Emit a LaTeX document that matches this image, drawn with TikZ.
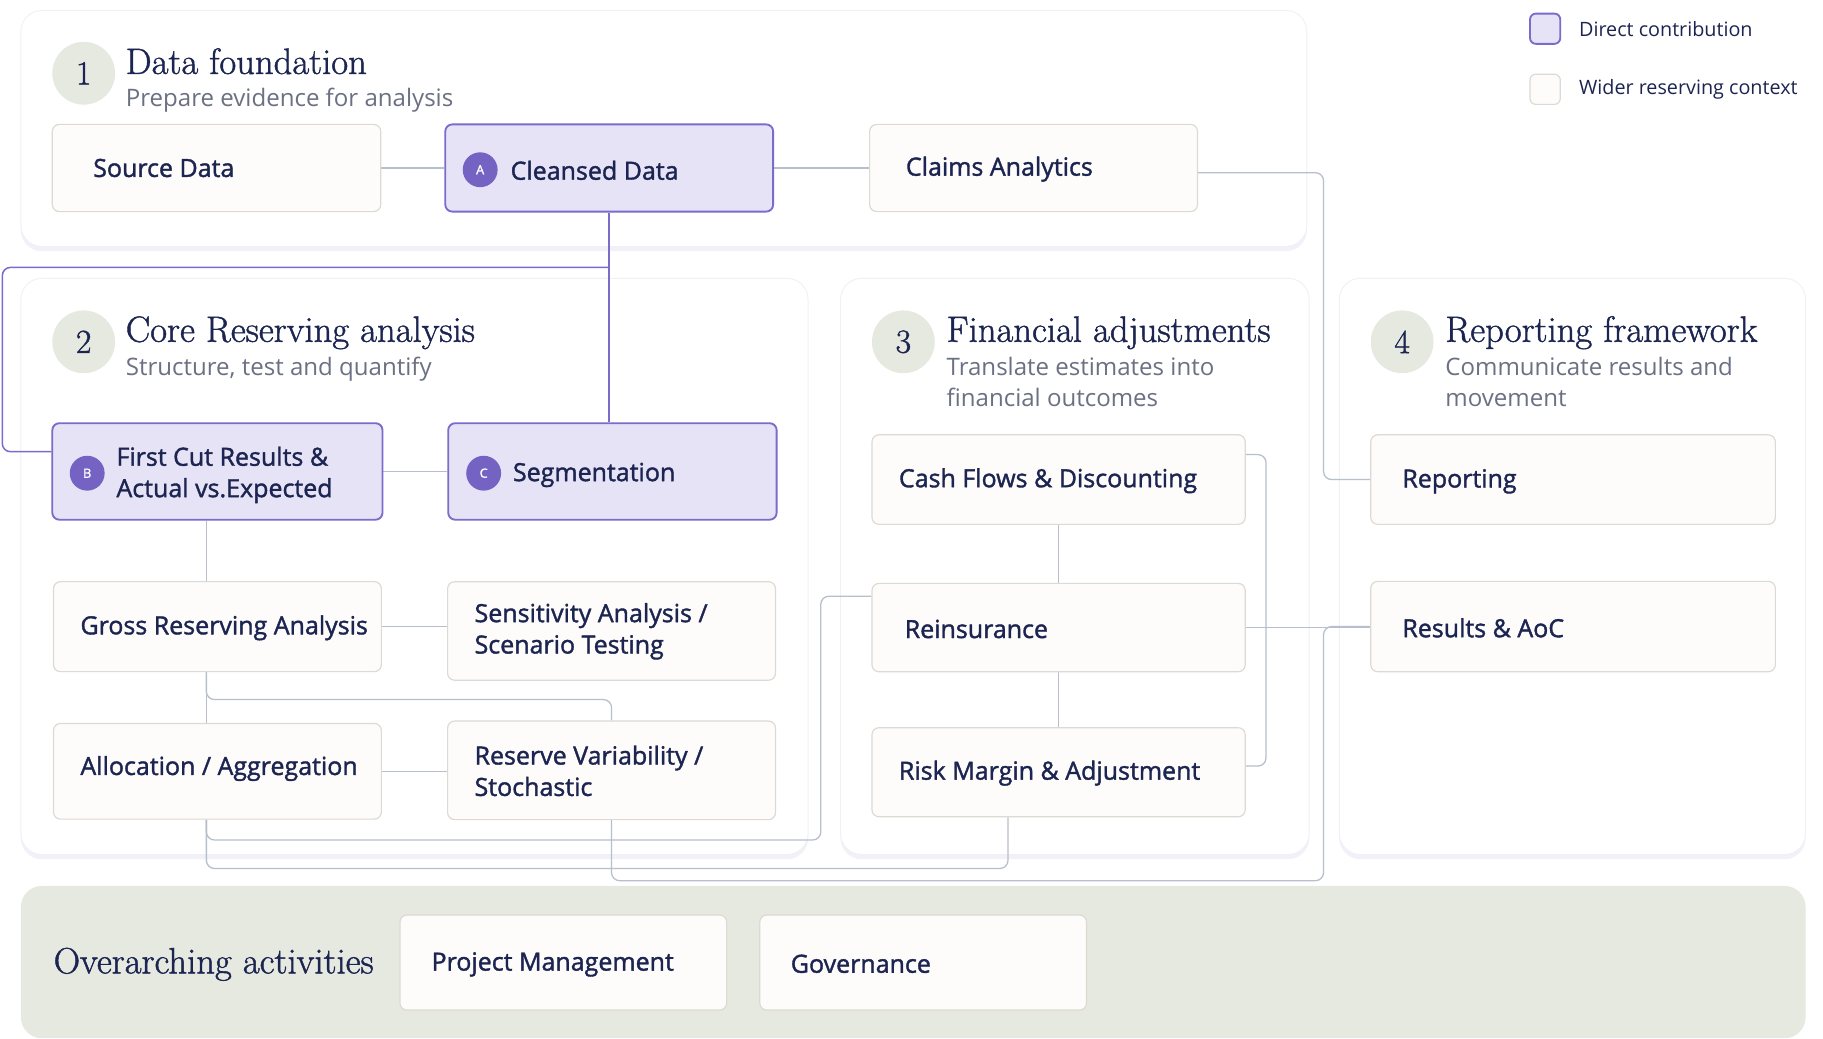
\documentclass[tikz,border=0pt]{standalone}
\usepackage{fontspec}
\setsansfont{Open Sans}
\newfontfamily\boxfont{Open Sans}[FakeBold=1.5]
\newfontfamily\headfont{Latin Modern Roman}[FakeBold=1.2]
\usetikzlibrary{shadows}
\definecolor{ink}{HTML}{1C2551}
\definecolor{subc}{HTML}{6B7183}
\definecolor{purp}{HTML}{7B6BCB}
\definecolor{purpfill}{HTML}{E7E3F6}
\definecolor{badgec}{HTML}{7463C3}
\definecolor{boxfill}{HTML}{FDFCFA}
\definecolor{boxline}{HTML}{DDD9D3}
\definecolor{linec}{HTML}{B7BECC}
\definecolor{sage}{HTML}{E6E9E0}
\definecolor{shadowc}{HTML}{E6E3F4}
\definecolor{panelline}{HTML}{F1F0F6}
\pgfdeclarelayer{panels}
\pgfdeclarelayer{links}
\pgfsetlayers{panels,links,main}
\begin{document}
\begin{tikzpicture}[x=1pt,y=-1pt,line join=round,line cap=round,
  panel/.style={fill=white,draw=panelline,line width=.8pt,rounded corners=18pt,
    drop shadow={shadow xshift=0pt,shadow yshift=-4pt,opacity=.5,fill=shadowc}},
  box/.style={draw=boxline,fill=boxfill,line width=1pt,rounded corners=6pt,inner sep=0pt},
  dbox/.style={box,draw=purp,fill=purpfill,line width=1.6pt},
  badge/.style={circle,fill=badgec,text=white,minimum size=30pt,inner sep=0pt,font=\boxfont\fontsize{11}{11}\selectfont},
  num/.style={circle,fill=sage,minimum size=54pt,inner sep=0pt,text=ink,font=\headfont\fontsize{29}{29}\selectfont},
  lbl/.style={anchor=west,text=ink,inner sep=0pt,align=left,font=\boxfont\fontsize{21.5}{27}\selectfont},
  ttl/.style={anchor=base west,text=ink,inner sep=0pt,font=\headfont\fontsize{31.5}{32}\selectfont},
  sub/.style={anchor=base west,text=subc,inner sep=0pt,align=left,font=\sffamily\fontsize{20.7}{27}\selectfont},
  leg/.style={anchor=west,text=ink,inner sep=0pt,font=\sffamily\fontsize{17}{20}\selectfont},
  link/.style={draw=linec,line width=1.1pt,rounded corners=7pt},
  plink/.style={draw=purp,line width=1.3pt,rounded corners=7pt}]
\useasboundingbox (0,0) rectangle (1568,893.6);

% panels
\begin{pgfonlayer}{panels}
\fill[white] (0,0) rectangle (1568,893.6);
\path[panel] (18,9) rectangle (1124,212);
\path[panel] (18,239.4) rectangle (695,735);
\path[panel] (723,239.4) rectangle (1126,735);
\path[panel] (1152,239.4) rectangle (1553,735);
\fill[sage,rounded corners=18pt] (18,762) rectangle (1553,893);
\end{pgfonlayer}

% legend
\node[box,draw=purp,fill=purpfill,line width=1.6pt,rounded corners=5pt,minimum size=26pt] (lg1) at (1329,24.7) {};
\node[box,rounded corners=5pt,minimum size=26pt] (lg2) at (1329,76.8) {};
\node[leg] (lg1-t) at (1358,25) {Direct contribution};
\node[leg] (lg2-t) at (1358,77) {Wider reserving context};

% 1 data foundation
\node[num] (n1) at (72,63) {1};
\node[ttl] (t1) at (108,63.6) {Data foundation};
\node[sub] (s1) at (108,92) {Prepare evidence for analysis};
\node[box,minimum width=282.5pt,minimum height=75pt] (src) at (186.25,144.5) {};
\node[dbox,minimum width=282pt,minimum height=75pt] (cln) at (524,144.5) {};
\node[box,minimum width=282pt,minimum height=75pt] (cla) at (889,144.5) {};
\node[lbl] (src-t) at (80,144.5) {Source Data};
\node[badge] (cln-b) at (413,146) {A};
\node[lbl] (cln-t) at (439,146.5) {Cleansed Data};
\node[lbl] (cla-t) at (779,145.5) {Claims Analytics};

% 2 core reserving
\node[num] (n2) at (72,294) {2};
\node[ttl] (t2) at (108,294) {Core Reserving analysis};
\node[sub] (s2) at (108,323) {Structure, test and quantify};
\node[dbox,minimum width=284pt,minimum height=83pt] (fc) at (187,405.5) {};
\node[dbox,minimum width=282.5pt,minimum height=83pt] (seg) at (526.75,405.5) {};
\node[box,minimum width=282pt,minimum height=77.4pt] (gra) at (187,539) {};
\node[box,minimum width=282pt,minimum height=84.7pt] (sen) at (526,542.7) {};
\node[box,minimum width=282pt,minimum height=82.3pt] (alo) at (187,663.4) {};
\node[box,minimum width=282pt,minimum height=84.8pt] (rv) at (526,662.6) {};
\node[badge] (fc-b) at (75,407) {B};
\node[lbl] (fc-t) at (100,408.5) {First Cut Results \&\\Actual vs.Expected};
\node[badge] (seg-b) at (416,407) {C};
\node[lbl] (seg-t) at (441,408.5) {Segmentation};
\node[lbl] (gra-t) at (69,540) {Gross Reserving Analysis};
\node[lbl] (sen-t) at (408,543) {Sensitivity Analysis /\\Scenario Testing};
\node[lbl] (alo-t) at (69,661) {Allocation / Aggregation};
\node[lbl] (rv-t) at (408,663) {Reserve Variability /\\Stochastic};

% 3 financial adjustments
\node[num] (n3) at (777,294) {3};
\node[ttl] (t3) at (814,294) {Financial adjustments};
\node[sub] (s3) at (814,350) {Translate estimates into\\financial outcomes};
\node[box,minimum width=321pt,minimum height=77pt] (cas) at (910.5,412.5) {};
\node[box,minimum width=321pt,minimum height=76pt] (rei) at (910.5,539.8) {};
\node[box,minimum width=321pt,minimum height=76.6pt] (ris) at (910.5,664.2) {};
\node[lbl] (cas-t) at (773,413.5) {Cash Flows \& Discounting};
\node[lbl] (rei-t) at (778,541) {Reinsurance};
\node[lbl] (ris-t) at (773,665) {Risk Margin \& Adjustment};

% 4 reporting framework
\node[num] (n4) at (1206,294) {4};
\node[ttl] (t4) at (1243,294) {Reporting framework};
\node[sub] (s4) at (1243,350) {Communicate results and\\movement};
\node[box,minimum width=348pt,minimum height=77pt] (rep) at (1353,412.5) {};
\node[box,minimum width=348pt,minimum height=77.7pt] (res) at (1353,538.9) {};
\node[lbl] (rep-t) at (1206,414) {Reporting};
\node[lbl] (res-t) at (1206,540) {Results \& AoC};

% overarching
\node[ttl] (t5) at (46,837.2) {Overarching activities};
\node[box,minimum width=281pt,minimum height=81.7pt] (pm) at (484.5,827.9) {};
\node[box,minimum width=281pt,minimum height=81.7pt] (gov) at (794,827.9) {};
\node[lbl] (pm-t) at (371,829.5) {Project Management};
\node[lbl] (gov-t) at (680,829) {Governance};

% connectors
\coordinate (c1) at (177.5,0);
\coordinate (xr) at (1138.4,0);
\coordinate (r1) at (867,747);
\coordinate (r2) at (1138.4,757.5);
\begin{pgfonlayer}{links}
\draw[link] (src.east) -- (cln.west);
\draw[link] (cln.east) -- (cla.west);
\draw[link] ([yshift=-4pt]cla.east) -| (xr |- rep.west) -- (rep.west);
\draw[plink] (cln.south) -- (cln.south |- seg.north);
\draw[plink] (cln.south |- 0,230) -- (2,230) |- ([yshift=17pt]fc.west);
\draw[link] (fc.east) -- (seg.west);
\draw[link] (fc.south -| c1) -- (gra.north -| c1);
\draw[link] (gra.east) -- (gra.east -| sen.west);
\draw[link] (gra.south -| c1) -- (alo.north -| c1);
\draw[link] (gra.south -| c1) |- ([yshift=18pt]rv.north) -- (rv.north);
\draw[link] (alo.east) -- (alo.east -| rv.west);
\draw[link] (alo.south -| c1) |- (706,722.5) |- ([yshift=27pt]rei.west);
\draw[link] (alo.south -| c1) |- (r1) -- (r1 |- ris.south);
\draw[link] (rv.south) |- (r2) |- (res.west);
\draw[link] (cas.south) -- (rei.north);
\draw[link] (rei.south) -- (ris.north);
\draw[link] ([yshift=21.5pt]cas.east) -| ([xshift=17.4pt,yshift=5.3pt]ris.east) -- ([yshift=5.3pt]ris.east);
\draw[link] (rei.east) -- (rei.east -| res.west);
\end{pgfonlayer}
\end{tikzpicture}
\end{document}
